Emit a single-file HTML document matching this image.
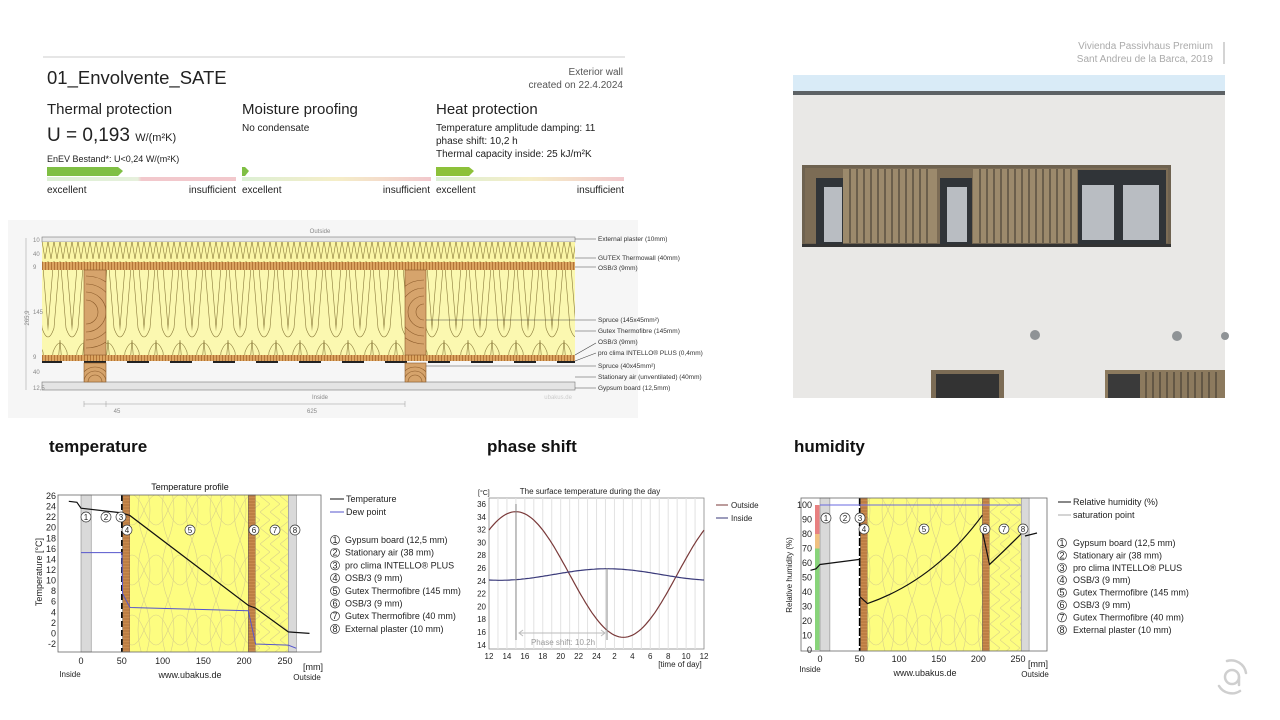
<!DOCTYPE html>
<html><head><meta charset="utf-8"><style>
html,body{margin:0;padding:0;background:#fff;}
svg{display:block;font-family:"Liberation Sans",sans-serif;}
</style></head><body>
<svg id="s" width="1280" height="720" viewBox="0 0 1280 720" xmlns="http://www.w3.org/2000/svg">
<defs>
<pattern id="osb" width="3" height="8" patternUnits="userSpaceOnUse"><rect width="3" height="8" fill="#dba460"/><line x1="0.5" y1="0" x2="0.5" y2="8" stroke="#a8682c" stroke-width="0.8"/></pattern>
<pattern id="zig" width="6" height="20" patternUnits="userSpaceOnUse"><rect width="6" height="20" fill="#fbf6a6"/><path d="M0,1 L3,19 L6,1" fill="none" stroke="#8a7a3a" stroke-width="0.6"/></pattern>
<pattern id="loops" width="24" height="85" patternUnits="userSpaceOnUse"><rect width="24" height="85" fill="#fbf8b0"/><path d="M-1,85 L5,12 Q12,-6 19,12 L25,85" fill="none" stroke="#8a7a3a" stroke-width="0.6"/><path d="M-12,0 L-6,73 Q0,91 6,73 L12,0 M12,0 L18,73 Q24,91 30,73 L36,0" fill="none" stroke="#8a7a3a" stroke-width="0.6"/></pattern>
<pattern id="cl" width="24" height="60" patternUnits="userSpaceOnUse"><rect width="24" height="60" fill="#fdfd80"/><path d="M0,0 Q12,30 0,60 M24,0 Q12,30 24,60 M0,30 Q12,0 24,30 Q12,60 0,30" fill="none" stroke="#d8d08a" stroke-width="0.6"/></pattern>
<pattern id="cz" width="10" height="16" patternUnits="userSpaceOnUse"><rect width="10" height="16" fill="#fdfd80"/><path d="M0,0 L10,8 L0,16" fill="none" stroke="#d8d08a" stroke-width="0.6"/></pattern>
<pattern id="cosb" width="8" height="3" patternUnits="userSpaceOnUse"><rect width="8" height="3" fill="#c98a4e"/><line x1="0" y1="1" x2="8" y2="1" stroke="#9a5a28" stroke-width="0.5"/></pattern>
<clipPath id="studs"><rect x="84" y="270" width="22" height="85"/><rect x="405" y="270" width="21" height="85"/><rect x="84" y="363" width="22" height="19"/><rect x="405" y="363" width="21" height="19"/></clipPath>
</defs>

<!-- header -->
<line x1="43" y1="57" x2="625" y2="57" stroke="#ddd" stroke-width="1.5"/>
<text x="47" y="84" font-size="18.5" fill="#222">01_Envolvente_SATE</text>
<text x="623" y="75" font-size="10" fill="#555" text-anchor="end">Exterior wall</text>
<text x="623" y="88" font-size="10" fill="#555" text-anchor="end">created on 22.4.2024</text>
<text x="47" y="114" font-size="15" fill="#222">Thermal protection</text>
<text x="242" y="114" font-size="15" fill="#222">Moisture proofing</text>
<text x="436" y="114" font-size="15" fill="#222">Heat protection</text>
<text x="47" y="141" font-size="19" fill="#222">U = 0,193 <tspan font-size="11">W/(m²K)</tspan></text>
<text x="242" y="131" font-size="10" fill="#222">No condensate</text>
<text x="436" y="131" font-size="10" fill="#222">Temperature amplitude damping: 11</text>
<text x="436" y="144" font-size="10" fill="#222">phase shift: 10,2 h</text>
<text x="436" y="157" font-size="10" fill="#222">Thermal capacity inside: 25 kJ/m²K</text>
<text x="47" y="162" font-size="9" fill="#222">EnEV Bestand*: U&lt;0,24 W/(m²K)</text>
<defs>
<linearGradient id="g1"><stop offset="0" stop-color="#dcefd4"/><stop offset="0.48" stop-color="#e6f0dc"/><stop offset="0.5" stop-color="#f2c8cc"/><stop offset="1" stop-color="#f2c8cc"/></linearGradient>
<linearGradient id="g2"><stop offset="0" stop-color="#dcefd4"/><stop offset="0.5" stop-color="#f5eec8"/><stop offset="1" stop-color="#f2c8cc"/></linearGradient>
</defs>
<rect x="47" y="177" width="189" height="4" fill="url(#g1)"/>
<rect x="242" y="177" width="189" height="4" fill="url(#g2)"/>
<rect x="436" y="177" width="188" height="4" fill="url(#g2)"/>
<path d="M47,167 H118 L123,171 L118,176 H47Z" fill="#7fbf44"/>
<path d="M242,167 H245 L249,171 L245,176 H242Z" fill="#7fbf44"/>
<path d="M436,167 H469 L474,171 L469,176 H436Z" fill="#8dc13a"/>
<g font-size="10" fill="#222">
<text x="47" y="193">excellent</text><text x="236" y="193" text-anchor="end">insufficient</text>
<text x="242" y="193">excellent</text><text x="430" y="193" text-anchor="end">insufficient</text>
<text x="436" y="193">excellent</text><text x="624" y="193" text-anchor="end">insufficient</text>
</g>

<!-- wall section -->
<rect x="8" y="220" width="630" height="198" fill="#f6f6f6"/>
<rect x="42" y="237" width="533" height="5" fill="#e8e8e8" stroke="#777" stroke-width="0.6"/>
<rect x="42" y="242" width="533" height="20" fill="url(#zig)"/>
<rect x="42" y="262" width="533" height="8" fill="url(#osb)"/>
<rect x="42" y="270" width="533" height="85" fill="url(#loops)"/>
<rect x="42" y="355" width="533" height="6" fill="url(#osb)"/>
<g fill="#222"><rect x="42" y="361" width="20" height="2"/><rect x="84" y="361" width="22" height="2"/><rect x="127" y="361" width="22" height="2"/><rect x="170" y="361" width="22" height="2"/><rect x="213" y="361" width="22" height="2"/><rect x="256" y="361" width="22" height="2"/><rect x="299" y="361" width="22" height="2"/><rect x="342" y="361" width="22" height="2"/><rect x="385" y="361" width="22" height="2"/><rect x="428" y="361" width="22" height="2"/><rect x="471" y="361" width="22" height="2"/><rect x="514" y="361" width="22" height="2"/><rect x="557" y="361" width="18" height="2"/></g>
<rect x="42" y="382" width="533" height="8" fill="#e4e4e4" stroke="#777" stroke-width="0.6"/>
<g fill="#d6a46c" stroke="#8a5a2a" stroke-width="0.6">
<rect x="84" y="270" width="22" height="85"/><rect x="405" y="270" width="21" height="85"/>
<rect x="84" y="363" width="22" height="19"/><rect x="405" y="363" width="21" height="19"/>
</g>
<g fill="none" stroke="#8a5a2a" stroke-width="0.6" clip-path="url(#studs)">
<path d="M86,300 a12,12 0 0 1 0,24 M86,292 a20,20 0 0 1 0,40 M86,284 a28,28 0 0 1 0,56 M86,276 a36,36 0 0 1 0,72"/>
<path d="M424,304 a8,8 0 0 0 0,16 M424,296 a16,16 0 0 0 0,32 M424,288 a24,24 0 0 0 0,48 M424,280 a32,32 0 0 0 0,64"/>
<path d="M88,382 a7,7 0 0 1 14,0 M84,382 a11,11 0 0 1 22,0 M80,382 a15,15 0 0 1 30,0 M408,382 a7,7 0 0 1 14,0 M404,382 a11,11 0 0 1 22,0 M400,382 a15,15 0 0 1 30,0"/>
</g>
<g font-size="6" fill="#888">
<text x="320" y="233" text-anchor="middle">Outside</text>
<text x="320" y="399" text-anchor="middle">Inside</text>
<text x="572" y="399" text-anchor="end" fill="#ccc">ubakus.de</text>
<text x="33" y="242">10</text><text x="33" y="256">40</text><text x="33" y="269">9</text><text x="33" y="314">145</text><text x="33" y="359">9</text><text x="33" y="374">40</text><text x="33" y="390">12,5</text>
<text transform="translate(29,318) rotate(-90)" text-anchor="middle">265,9</text>
<text x="117" y="413" text-anchor="middle">45</text><text x="312" y="413" text-anchor="middle">625</text>
</g>
<g stroke="#999" stroke-width="0.5"><line x1="84" y1="404" x2="405" y2="404"/><line x1="84" y1="401" x2="84" y2="407"/><line x1="106" y1="401" x2="106" y2="407"/><line x1="405" y1="401" x2="405" y2="407"/><line x1="26" y1="238" x2="26" y2="390"/></g>
<g stroke="#444" stroke-width="0.6">
<line x1="575" y1="239" x2="596" y2="239"/><line x1="575" y1="258" x2="596" y2="258"/><line x1="575" y1="267" x2="596" y2="267"/><line x1="426" y1="320" x2="596" y2="320"/><line x1="575" y1="331" x2="596" y2="331"/><line x1="575" y1="355" x2="596" y2="343"/><line x1="575" y1="361" x2="596" y2="353"/><line x1="426" y1="366" x2="596" y2="366"/><line x1="575" y1="377" x2="596" y2="377"/><line x1="575" y1="388" x2="596" y2="388"/>
</g>
<g font-size="6.5" fill="#333">
<text x="598" y="241">External plaster (10mm)</text><text x="598" y="260">GUTEX Thermowall (40mm)</text><text x="598" y="270">OSB/3 (9mm)</text>
<text x="598" y="322">Spruce (145x45mm²)</text><text x="598" y="333">Gutex Thermofibre (145mm)</text><text x="598" y="344">OSB/3 (9mm)</text>
<text x="598" y="355">pro clima INTELLO® PLUS (0,4mm)</text><text x="598" y="368">Spruce (40x45mm²)</text><text x="598" y="379">Stationary air (unventilated) (40mm)</text><text x="598" y="390">Gypsum board (12,5mm)</text>
</g>

<!-- photo -->
<rect x="793" y="75" width="432" height="323" fill="#e9e8e6"/>
<rect x="793" y="75" width="432" height="16" fill="#d9ebf7"/>
<rect x="793" y="91" width="432" height="4" fill="#5d6265"/>
<rect x="802" y="165" width="369" height="82" fill="#6e6250"/>
<rect x="805" y="168" width="363" height="75" fill="#7c6c55"/>
<g fill="#303438"><rect x="816" y="178" width="27" height="66"/><rect x="940" y="178" width="32" height="66"/><rect x="1078" y="170" width="88" height="74"/></g>
<g fill="#b9bdc2"><rect x="824" y="187" width="18" height="55"/><rect x="947" y="187" width="20" height="55"/><rect x="1082" y="185" width="32" height="55"/><rect x="1123" y="185" width="36" height="55"/></g>
<g fill="#9c8a6c"><rect x="843" y="169" width="94" height="74"/><rect x="973" y="169" width="104" height="74"/></g>
<g stroke="#3a342c" stroke-width="1"><path d="M850,169V243M857,169V243M864,169V243M871,169V243M878,169V243M885,169V243M892,169V243M899,169V243M906,169V243M913,169V243M920,169V243M927,169V243M980,169V243M987,169V243M994,169V243M1001,169V243M1008,169V243M1015,169V243M1022,169V243M1029,169V243M1036,169V243M1043,169V243M1050,169V243M1057,169V243M1064,169V243M1071,169V243"/></g>
<rect x="802" y="244" width="369" height="3" fill="#333"/>
<g fill="#8f9396"><circle cx="1035" cy="335" r="5"/><circle cx="1177" cy="336" r="5"/><circle cx="1225" cy="336" r="4"/></g>
<rect x="931" y="370" width="73" height="28" fill="#7c6c55"/><rect x="936" y="374" width="63" height="24" fill="#333"/>
<rect x="1105" y="370" width="120" height="28" fill="#8c7a5e"/><rect x="1108" y="374" width="32" height="24" fill="#3a3a3a"/>
<g stroke="#3a342c"><path d="M1146,372V398M1153,372V398M1160,372V398M1167,372V398M1174,372V398M1181,372V398M1188,372V398M1195,372V398M1202,372V398M1209,372V398M1216,372V398"/></g>
<text x="1213" y="49" font-size="10" fill="#aaa" text-anchor="end">Vivienda Passivhaus Premium</text>
<text x="1213" y="62" font-size="10" fill="#aaa" text-anchor="end">Sant Andreu de la Barca, 2019</text>
<line x1="1224" y1="42" x2="1224" y2="64" stroke="#aaa"/>

<!-- section titles -->
<g font-size="17" fill="#111" font-weight="bold">
<text x="49" y="452">temperature</text><text x="487" y="452">phase shift</text><text x="794" y="452">humidity</text>
</g>

<!-- temperature chart -->
<rect x="58" y="495" width="263" height="157" fill="#fff"/>
<rect x="81" y="495" width="10.2" height="157" fill="#d9d9d9" stroke="#777" stroke-width="0.5"/>
<rect x="122.6" y="495" width="7.4" height="157" fill="url(#cosb)" stroke="#555" stroke-width="0.5"/>
<rect x="130" y="495" width="118.3" height="157" fill="url(#cl)"/>
<rect x="248.3" y="495" width="7.3" height="157" fill="url(#cosb)" stroke="#555" stroke-width="0.5"/>
<rect x="255.6" y="495" width="32.7" height="157" fill="url(#cz)"/>
<rect x="288.3" y="495" width="8.1" height="157" fill="#d9d9d9" stroke="#777" stroke-width="0.5"/>
<line x1="121.8" y1="495" x2="121.8" y2="652" stroke="#000" stroke-width="1.5" stroke-dasharray="6,3"/>
<rect x="58" y="495" width="263" height="157" fill="none" stroke="#666" stroke-width="0.8"/>
<polyline points="68.8,501.3 76.9,502.3 81,508.2 121.8,512.9 130,515.6 248.3,605.4 255.6,608.1 288.3,631.9 294.8,632.4 309.5,633.4" fill="none" stroke="#111" stroke-width="1.2"/>
<polyline points="81,552.6 121.8,552.6 122.6,593.8 130,607.5 248.3,610.7 255.6,644 288.3,645.1 296.4,648.3" fill="none" stroke="#5555cc" stroke-width="1"/>
<text x="190" y="490" font-size="9" fill="#111" text-anchor="middle">Temperature profile</text>
<g font-size="9" fill="#222" text-anchor="end" id="ty"></g>
<g font-size="9" fill="#222" text-anchor="middle"><text x="81" y="664">0</text><text x="121.8" y="664">50</text><text x="162.6" y="664">100</text><text x="203.4" y="664">150</text><text x="244.2" y="664">200</text><text x="285" y="664">250</text>
<text x="70" y="677" font-size="8">Inside</text><text x="190" y="678">www.ubakus.de</text><text x="313" y="670">[mm]</text><text x="307" y="680" font-size="8">Outside</text></g>
<text transform="translate(42,572) rotate(-90)" font-size="9" text-anchor="middle" fill="#222">Temperature  [°C]</text>
<g id="tc" font-size="8" fill="#222"></g>
<g font-size="9" fill="#222">
<line x1="330" y1="499" x2="344" y2="499" stroke="#111"/><text x="346" y="502">Temperature</text>
<line x1="330" y1="512" x2="344" y2="512" stroke="#5555cc"/><text x="346" y="515">Dew point</text>
</g>
<g id="tl" font-size="9" fill="#222"></g>

<!-- phase chart -->
<rect x="489" y="498" width="215" height="151" fill="#fff" stroke="#888" stroke-width="0.8"/>
<g id="pg"></g>
<path id="po" fill="none" stroke="#7a3a3a" stroke-width="1.2"/>
<path id="pi" fill="none" stroke="#3a3a7a" stroke-width="1.2"/>
<line x1="516" y1="504" x2="516" y2="640" stroke="#888"/>
<line x1="607" y1="568" x2="607" y2="640" stroke="#888"/>
<line x1="519" y1="633" x2="605" y2="633" stroke="#bbb"/>
<path d="M523,630 L519,633 L523,636 M601,630 L605,633 L601,636" fill="none" stroke="#bbb"/>
<text x="563" y="645" font-size="8" fill="#999" text-anchor="middle">Phase shift: 10.2h</text>
<text x="590" y="494" font-size="8" fill="#222" text-anchor="middle">The surface temperature during the day</text>
<text x="478" y="495" font-size="7" fill="#222">[°C]</text>
<g id="py" font-size="8" fill="#222" text-anchor="end"></g>
<g id="px" font-size="8" fill="#222" text-anchor="middle"></g>
<text x="680" y="667" font-size="8" fill="#222" text-anchor="middle">[time of day]</text>
<line x1="716" y1="505" x2="728" y2="505" stroke="#7a3a3a"/><text x="731" y="508" font-size="8" fill="#222">Outside</text>
<line x1="716" y1="518" x2="728" y2="518" stroke="#3a3a7a"/><text x="731" y="521" font-size="8" fill="#222">Inside</text>

<!-- humidity chart -->
<rect x="801" y="498" width="246" height="153" fill="#fff"/>
<rect x="820" y="498" width="9.9" height="153" fill="#d9d9d9" stroke="#777" stroke-width="0.5"/>
<rect x="860.4" y="498" width="7.1" height="153" fill="url(#cosb)" stroke="#555" stroke-width="0.5"/>
<rect x="867.5" y="498" width="114.9" height="153" fill="url(#cl)"/>
<rect x="982.4" y="498" width="7.1" height="153" fill="url(#cosb)" stroke="#555" stroke-width="0.5"/>
<rect x="989.5" y="498" width="31.7" height="153" fill="url(#cz)"/>
<rect x="1021.2" y="498" width="7.9" height="153" fill="#d9d9d9" stroke="#777" stroke-width="0.5"/>
<line x1="859.6" y1="498" x2="859.6" y2="651" stroke="#000" stroke-width="1.5" stroke-dasharray="8,2"/>
<rect x="815" y="548.5" width="4.5" height="101.5" fill="#88d47a"/>
<rect x="815" y="534" width="4.5" height="14.5" fill="#f0c080"/>
<rect x="815" y="505" width="4.5" height="29" fill="#e88080"/>
<line x1="820" y1="505" x2="1021" y2="505" stroke="#6a6ae0"/>
<rect x="801" y="498" width="246" height="153" fill="none" stroke="#666" stroke-width="0.8"/>
<path d="M810.5,570.3 L816,568.8 L820,564.5 L859.6,559.4 M859.6,596.4 L867.5,603.6 Q935,580 982.4,515.2 M982.4,531.1 L989.5,564.5 Q1005,550 1021,534 M1037,533 L1025,536" fill="none" stroke="#111" stroke-width="1.2"/>
<g id="hy" font-size="9" fill="#222" text-anchor="end"></g>
<g font-size="9" fill="#222" text-anchor="middle"><text x="820" y="662">0</text><text x="859.6" y="662">50</text><text x="899.2" y="662">100</text><text x="938.8" y="662">150</text><text x="978.4" y="662">200</text><text x="1018" y="662">250</text>
<text x="810" y="672" font-size="8">Inside</text><text x="925" y="676">www.ubakus.de</text><text x="1038" y="667">[mm]</text><text x="1035" y="677" font-size="8">Outside</text></g>
<text transform="translate(792,575) rotate(-90)" font-size="8" text-anchor="middle" fill="#222">Relative humidity (%)</text>
<g id="hc" font-size="8" fill="#222"></g>
<g font-size="9" fill="#222">
<line x1="1058" y1="502" x2="1071" y2="502" stroke="#111"/><text x="1073" y="505">Relative humidity (%)</text>
<line x1="1058" y1="515" x2="1071" y2="515" stroke="#aaa"/><text x="1073" y="518">saturation point</text>
</g>
<g id="hl" font-size="9" fill="#222"></g>

<!-- logo -->
<g fill="none" stroke="#cfcfcf" stroke-width="2.5" stroke-linecap="round">
<path d="M1227,661 A15,15 0 0 1 1246,673"/><path d="M1219,686 A15,15 0 0 0 1240,691"/>
<circle cx="1232" cy="677" r="7"/><path d="M1239,677 V685"/>
</g>
</svg>
<script>
var NS="http://www.w3.org/2000/svg";
function T(g,x,y,s,a){var t=document.createElementNS(NS,"text");t.setAttribute("x",x);t.setAttribute("y",y);if(a)for(var k in a)t.setAttribute(k,a[k]);t.textContent=s;document.getElementById(g).appendChild(t);return t;}
function C(g,x,y,n,r){var c=document.createElementNS(NS,"circle");c.setAttribute("cx",x);c.setAttribute("cy",y);c.setAttribute("r",r||5);c.setAttribute("fill","#fff");c.setAttribute("stroke","#333");c.setAttribute("stroke-width","0.7");document.getElementById(g).appendChild(c);T(g,x,y+3,n,{"text-anchor":"middle"});}
for(var i=0;i<15;i++){var v=26-2*i;T("ty",56,496+i*10.57+3,v);}
var L=["Gypsum board (12,5 mm)","Stationary air (38 mm)","pro clima INTELLO® PLUS","OSB/3 (9 mm)","Gutex Thermofibre (145 mm)","OSB/3 (9 mm)","Gutex Thermofibre (40 mm)","External plaster (10 mm)"];
for(var i=0;i<8;i++){C("tl",335,540+i*12.7,i+1,4.5);T("tl",345,543+i*12.7,L[i]);C("hl",1062,543+i*12.4,i+1,4.5);T("hl",1073,546+i*12.4,L[i]);}
[[86,517,1],[106,517,2],[121,517,3],[127,530,4],[190,530,5],[254,530,6],[275,530,7],[295,530,8]].forEach(function(p){C("tc",p[0],p[1],p[2]);});
[[826,518,1],[845,518,2],[860,518,3],[864,529,4],[924,529,5],[985,529,6],[1004,529,7],[1023,529,8]].forEach(function(p){C("hc",p[0],p[1],p[2]);});
for(var i=0;i<=10;i++){T("hy",812,650-i*14.5+3,i*10);}
var pg=document.getElementById("pg");
for(var h=1;h<24;h++){var l=document.createElementNS(NS,"line");var x=489+8.96*h;l.setAttribute("x1",x);l.setAttribute("x2",x);l.setAttribute("y1",498);l.setAttribute("y2",649);l.setAttribute("stroke","#e2e2e2");pg.appendChild(l);}
for(var i=0;i<12;i++){T("py",486,504+i*12.8+3,36-2*i);}
var lab=[12,14,16,18,20,22,24,2,4,6,8,10,12];
for(var i=0;i<13;i++){T("px",489+i*2*8.96,659,lab[i]);}
function Y(t){return 504+(36-t)*6.41;}
var o="",n="";
for(var k=0;k<=96;k++){var h=k/4,x=489+8.96*h;var to=25+9.8*Math.cos(2*Math.PI*(h-3)/24);var ti=25+0.9*Math.cos(2*Math.PI*(h-13.2)/24);o+=(k?"L":"M")+x.toFixed(1)+","+Y(to).toFixed(1);n+=(k?"L":"M")+x.toFixed(1)+","+Y(ti).toFixed(1);}
document.getElementById("po").setAttribute("d",o);document.getElementById("pi").setAttribute("d",n);
</script>
</body></html>
